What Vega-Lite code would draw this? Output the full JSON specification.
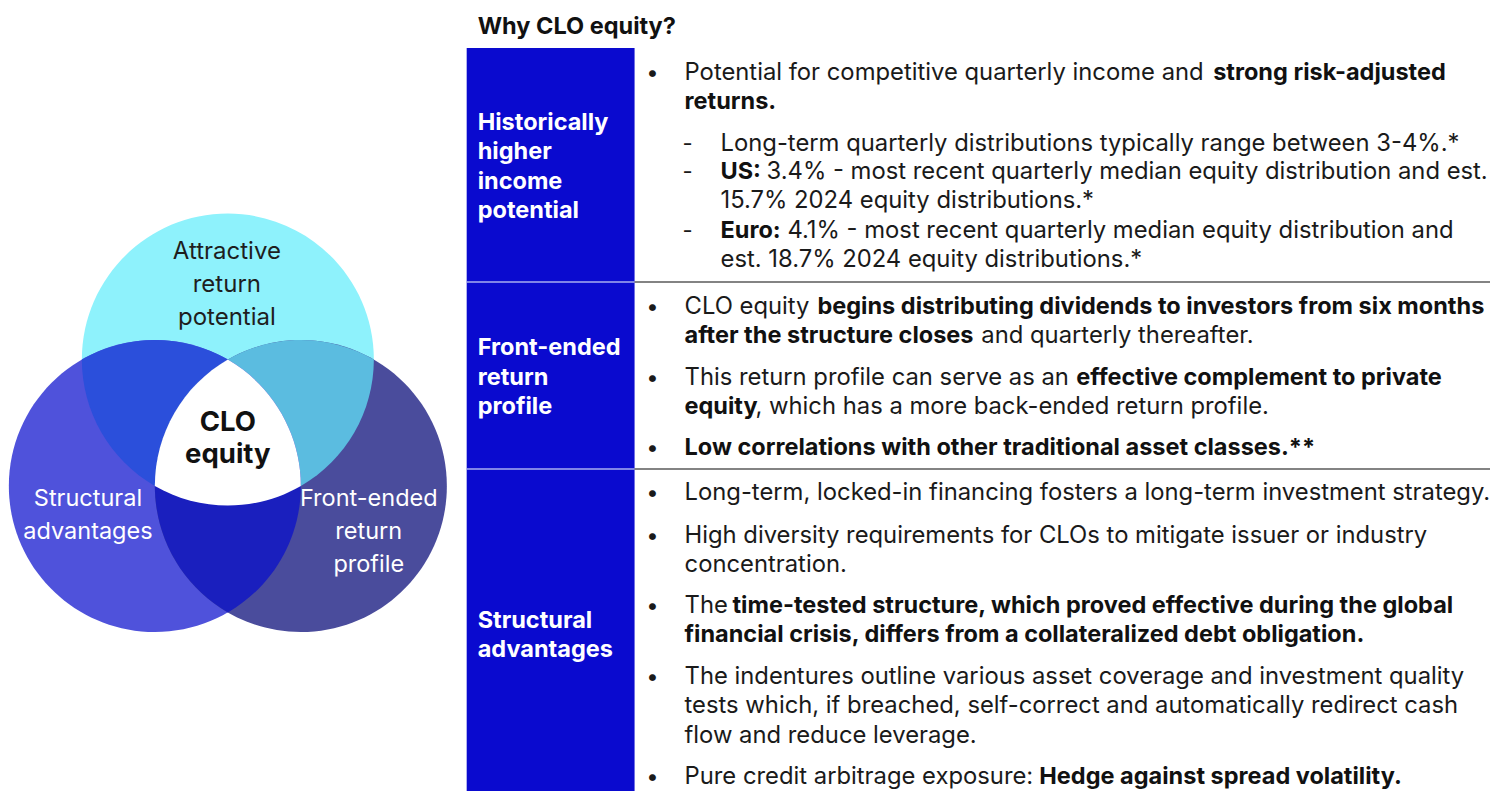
{
  "$schema": "https://vega.github.io/schema/vega-lite/v6.json",
  "width": 1491,
  "height": 791,
  "autosize": {"type": "fit", "contains": "padding"},
  "padding": 0,
  "background": "white",
  "config": {"view": {"stroke": null}, "font": "Inter"},
  "datasets": {
    "venn": [
      {"region": "Attractive return potential", "x": 228, "y": 443.9},
      {"region": "Structural advantages", "x": 228, "y": 443.9},
      {"region": "Front-ended return profile", "x": 228, "y": 443.9},
      {"region": "Attractive + Structural", "x": 228, "y": 443.9},
      {"region": "Attractive + Front-ended", "x": 228, "y": 443.9},
      {"region": "Structural + Front-ended", "x": 228, "y": 443.9},
      {"region": "CLO equity", "x": 228, "y": 443.9}
    ],
    "vennDark": [
      {"text": "Attractive", "x": 227, "y": 252},
      {"text": "return", "x": 227, "y": 285},
      {"text": "potential", "x": 227, "y": 318}
    ],
    "vennLight": [
      {"text": "Structural", "x": 88, "y": 499},
      {"text": "advantages", "x": 88, "y": 532},
      {"text": "Front-ended", "x": 369, "y": 499},
      {"text": "return", "x": 369, "y": 532},
      {"text": "profile", "x": 369, "y": 565}
    ],
    "vennCentre": [
      {"text": "CLO", "x": 228, "y": 423},
      {"text": "equity", "x": 228, "y": 455}
    ],
    "title": [{"text": "Why CLO equity?", "x": 478, "y": 27}],
    "sections": [
      {"section": "Historically higher income potential", "top": 48, "bottom": 282},
      {"section": "Front-ended return profile", "top": 282, "bottom": 469},
      {"section": "Structural advantages", "top": 469, "bottom": 791}
    ],
    "dividers": [{"y": 282}, {"y": 469}],
    "rowLabels": [
      {"text": "Historically", "x": 478, "y": 123},
      {"text": "higher", "x": 478, "y": 152},
      {"text": "income", "x": 478, "y": 182},
      {"text": "potential", "x": 478, "y": 211},
      {"text": "Front-ended", "x": 478, "y": 348},
      {"text": "return", "x": 478, "y": 378},
      {"text": "profile", "x": 478, "y": 407},
      {"text": "Structural", "x": 478, "y": 621},
      {"text": "advantages", "x": 478, "y": 650}
    ],
    "markers": [
      {"text": "•", "x": 653, "y": 73},
      {"text": "-", "x": 688, "y": 144},
      {"text": "-", "x": 688, "y": 172},
      {"text": "-", "x": 688, "y": 231},
      {"text": "•", "x": 653, "y": 307},
      {"text": "•", "x": 653, "y": 378},
      {"text": "•", "x": 653, "y": 448},
      {"text": "•", "x": 653, "y": 493},
      {"text": "•", "x": 653, "y": 536},
      {"text": "•", "x": 653, "y": 606},
      {"text": "•", "x": 653, "y": 677},
      {"text": "•", "x": 653, "y": 777}
    ],
    "body": [
      {"text": "Potential for competitive quarterly income and", "x": 685, "y": 73},
      {"text": "Long-term quarterly distributions typically range between 3-4%.*", "x": 721, "y": 144},
      {"text": "3.4% - most recent quarterly median equity distribution and est.", "x": 767, "y": 172},
      {"text": "15.7% 2024 equity distributions.*", "x": 721, "y": 201},
      {"text": "4.1% - most recent quarterly median equity distribution and", "x": 788, "y": 231},
      {"text": "est. 18.7% 2024 equity distributions.*", "x": 721, "y": 260},
      {"text": "CLO equity", "x": 685, "y": 307},
      {"text": "and quarterly thereafter.", "x": 982, "y": 336},
      {"text": "This return profile can serve as an", "x": 685, "y": 378},
      {"text": ", which has a more back-ended return profile.", "x": 756, "y": 407},
      {"text": "Long-term, locked-in financing fosters a long-term investment strategy.", "x": 685, "y": 493},
      {"text": "High diversity requirements for CLOs to mitigate issuer or industry", "x": 685, "y": 536},
      {"text": "concentration.", "x": 685, "y": 565},
      {"text": "The", "x": 685, "y": 606},
      {"text": "The indentures outline various asset coverage and investment quality", "x": 685, "y": 677},
      {"text": "tests which, if breached, self-correct and automatically redirect cash", "x": 685, "y": 706},
      {"text": "flow and reduce leverage.", "x": 685, "y": 736},
      {"text": "Pure credit arbitrage exposure:", "x": 685, "y": 777}
    ],
    "emphasis": [
      {"text": "strong risk-adjusted", "x": 1214, "y": 73},
      {"text": "returns.", "x": 685, "y": 102},
      {"text": "US:", "x": 721, "y": 172},
      {"text": "Euro:", "x": 721, "y": 231},
      {"text": "begins distributing dividends to investors from six months", "x": 818, "y": 307},
      {"text": "after the structure closes", "x": 685, "y": 336},
      {"text": "effective complement to private", "x": 1077, "y": 378},
      {"text": "equity", "x": 685, "y": 407},
      {"text": "Low correlations with other traditional asset classes.**", "x": 685, "y": 448},
      {"text": "time-tested structure, which proved effective during the global", "x": 733, "y": 606},
      {"text": "financial crisis, differs from a collateralized debt obligation.", "x": 685, "y": 635},
      {"text": "Hedge against spread volatility.", "x": 1040, "y": 777}
    ]
  },
  "layer": [
    {
      "data": {"name": "venn"},
      "mark": {"type": "point", "filled": true, "opacity": 1, "size": 4, "strokeWidth": 0},
      "encoding": {
        "x": {"field": "x", "type": "quantitative", "scale": {"domain": [0, 1491], "nice": false, "zero": false}, "axis": null},
        "y": {"field": "y", "type": "quantitative", "scale": {"domain": [0, 791], "nice": false, "zero": false, "reverse": true}, "axis": null},
        "shape": {
          "field": "region", "type": "nominal", "legend": null,
          "scale": {
            "domain": ["Attractive return potential", "Structural advantages", "Front-ended return profile", "Attractive + Structural", "Attractive + Front-ended", "Structural + Front-ended", "CLO equity"],
            "range": [
              "M-146,-84.29A146,146,0,1,0,146,-84.29A146,146,0,1,0,-146,-84.29Z",
              "M-219,42.15A146,146,0,1,0,73,42.15A146,146,0,1,0,-219,42.15Z",
              "M-73,42.15A146,146,0,1,0,219,42.15A146,146,0,1,0,-73,42.15Z",
              "M-146,-84.29A146,146,0,0,0,73,42.15A146,146,0,0,0,-146,-84.29Z",
              "M146,-84.29A146,146,0,0,1,-73,42.15A146,146,0,0,1,146,-84.29Z",
              "M0,-84.29A146,146,0,0,1,0,168.58A146,146,0,0,1,0,-84.29Z",
              "M0,-84.29A146,146,0,0,0,-73,42.15A146,146,0,0,0,73,42.15A146,146,0,0,0,0,-84.29Z"
            ]
          }
        },
        "color": {
          "field": "region", "type": "nominal", "legend": null,
          "scale": {
            "domain": ["Attractive return potential", "Structural advantages", "Front-ended return profile", "Attractive + Structural", "Attractive + Front-ended", "Structural + Front-ended", "CLO equity"],
            "range": ["#8ef2fc", "#4f52db", "#4a4c9c", "#2b4fdb", "#5bbce0", "#1a1fbe", "#ffffff"]
          }
        }
      }
    },
    {
      "data": {"name": "vennDark"},
      "mark": {"type": "text", "align": "center", "baseline": "middle", "fontSize": 24, "color": "#1e1e1e", "font": "Inter"},
      "encoding": {
        "x": {"field": "x", "type": "quantitative", "scale": {"domain": [0, 1491], "nice": false, "zero": false}, "axis": null},
        "y": {"field": "y", "type": "quantitative", "scale": {"domain": [0, 791], "nice": false, "zero": false, "reverse": true}, "axis": null},
        "text": {"field": "text"}
      }
    },
    {
      "data": {"name": "vennLight"},
      "mark": {"type": "text", "align": "center", "baseline": "middle", "fontSize": 23.5, "color": "#ffffff", "font": "Inter"},
      "encoding": {
        "x": {"field": "x", "type": "quantitative", "scale": {"domain": [0, 1491], "nice": false, "zero": false}, "axis": null},
        "y": {"field": "y", "type": "quantitative", "scale": {"domain": [0, 791], "nice": false, "zero": false, "reverse": true}, "axis": null},
        "text": {"field": "text"}
      }
    },
    {
      "data": {"name": "vennCentre"},
      "mark": {"type": "text", "align": "center", "baseline": "middle", "fontSize": 27.5, "fontWeight": "bold", "color": "#111111", "font": "Inter"},
      "encoding": {
        "x": {"field": "x", "type": "quantitative", "scale": {"domain": [0, 1491], "nice": false, "zero": false}, "axis": null},
        "y": {"field": "y", "type": "quantitative", "scale": {"domain": [0, 791], "nice": false, "zero": false, "reverse": true}, "axis": null},
        "text": {"field": "text"}
      }
    },
    {
      "data": {"name": "title"},
      "mark": {"type": "text", "align": "left", "baseline": "middle", "fontSize": 23.5, "fontWeight": "bold", "color": "#111111", "font": "Inter"},
      "encoding": {
        "x": {"field": "x", "type": "quantitative", "scale": {"domain": [0, 1491], "nice": false, "zero": false}, "axis": null},
        "y": {"field": "y", "type": "quantitative", "scale": {"domain": [0, 791], "nice": false, "zero": false, "reverse": true}, "axis": null},
        "text": {"field": "text"}
      }
    },
    {
      "data": {"name": "sections"},
      "mark": {"type": "rect", "color": "#0a0acf"},
      "encoding": {
        "x": {"datum": 467, "type": "quantitative", "scale": {"domain": [0, 1491], "nice": false, "zero": false}, "axis": null},
        "x2": {"datum": 635},
        "y": {"field": "top", "type": "quantitative", "scale": {"domain": [0, 791], "nice": false, "zero": false, "reverse": true}, "axis": null},
        "y2": {"field": "bottom"}
      }
    },
    {
      "data": {"name": "dividers"},
      "mark": {"type": "rule", "color": "#a9aef0", "strokeWidth": 1.5},
      "encoding": {
        "x": {"datum": 467, "type": "quantitative", "scale": {"domain": [0, 1491], "nice": false, "zero": false}, "axis": null},
        "x2": {"datum": 635},
        "y": {"field": "y", "type": "quantitative", "scale": {"domain": [0, 791], "nice": false, "zero": false, "reverse": true}, "axis": null}
      }
    },
    {
      "data": {"name": "dividers"},
      "mark": {"type": "rule", "color": "#5a5a5a", "strokeWidth": 1.5},
      "encoding": {
        "x": {"datum": 635, "type": "quantitative", "scale": {"domain": [0, 1491], "nice": false, "zero": false}, "axis": null},
        "x2": {"datum": 1491},
        "y": {"field": "y", "type": "quantitative", "scale": {"domain": [0, 791], "nice": false, "zero": false, "reverse": true}, "axis": null}
      }
    },
    {
      "data": {"name": "rowLabels"},
      "mark": {"type": "text", "align": "left", "baseline": "middle", "fontSize": 23.5, "fontWeight": "bold", "color": "#ffffff", "font": "Inter"},
      "encoding": {
        "x": {"field": "x", "type": "quantitative", "scale": {"domain": [0, 1491], "nice": false, "zero": false}, "axis": null},
        "y": {"field": "y", "type": "quantitative", "scale": {"domain": [0, 791], "nice": false, "zero": false, "reverse": true}, "axis": null},
        "text": {"field": "text"}
      }
    },
    {
      "data": {"name": "markers"},
      "mark": {"type": "text", "align": "center", "baseline": "middle", "fontSize": 22, "color": "#1a1a1a", "font": "Inter"},
      "encoding": {
        "x": {"field": "x", "type": "quantitative", "scale": {"domain": [0, 1491], "nice": false, "zero": false}, "axis": null},
        "y": {"field": "y", "type": "quantitative", "scale": {"domain": [0, 791], "nice": false, "zero": false, "reverse": true}, "axis": null},
        "text": {"field": "text"}
      }
    },
    {
      "data": {"name": "body"},
      "mark": {"type": "text", "align": "left", "baseline": "middle", "fontSize": 23.8, "color": "#1a1a1a", "font": "Inter"},
      "encoding": {
        "x": {"field": "x", "type": "quantitative", "scale": {"domain": [0, 1491], "nice": false, "zero": false}, "axis": null},
        "y": {"field": "y", "type": "quantitative", "scale": {"domain": [0, 791], "nice": false, "zero": false, "reverse": true}, "axis": null},
        "text": {"field": "text"}
      }
    },
    {
      "data": {"name": "emphasis"},
      "mark": {"type": "text", "align": "left", "baseline": "middle", "fontSize": 23.5, "fontWeight": "bold", "color": "#111111", "font": "Inter"},
      "encoding": {
        "x": {"field": "x", "type": "quantitative", "scale": {"domain": [0, 1491], "nice": false, "zero": false}, "axis": null},
        "y": {"field": "y", "type": "quantitative", "scale": {"domain": [0, 791], "nice": false, "zero": false, "reverse": true}, "axis": null},
        "text": {"field": "text"}
      }
    }
  ]
}
